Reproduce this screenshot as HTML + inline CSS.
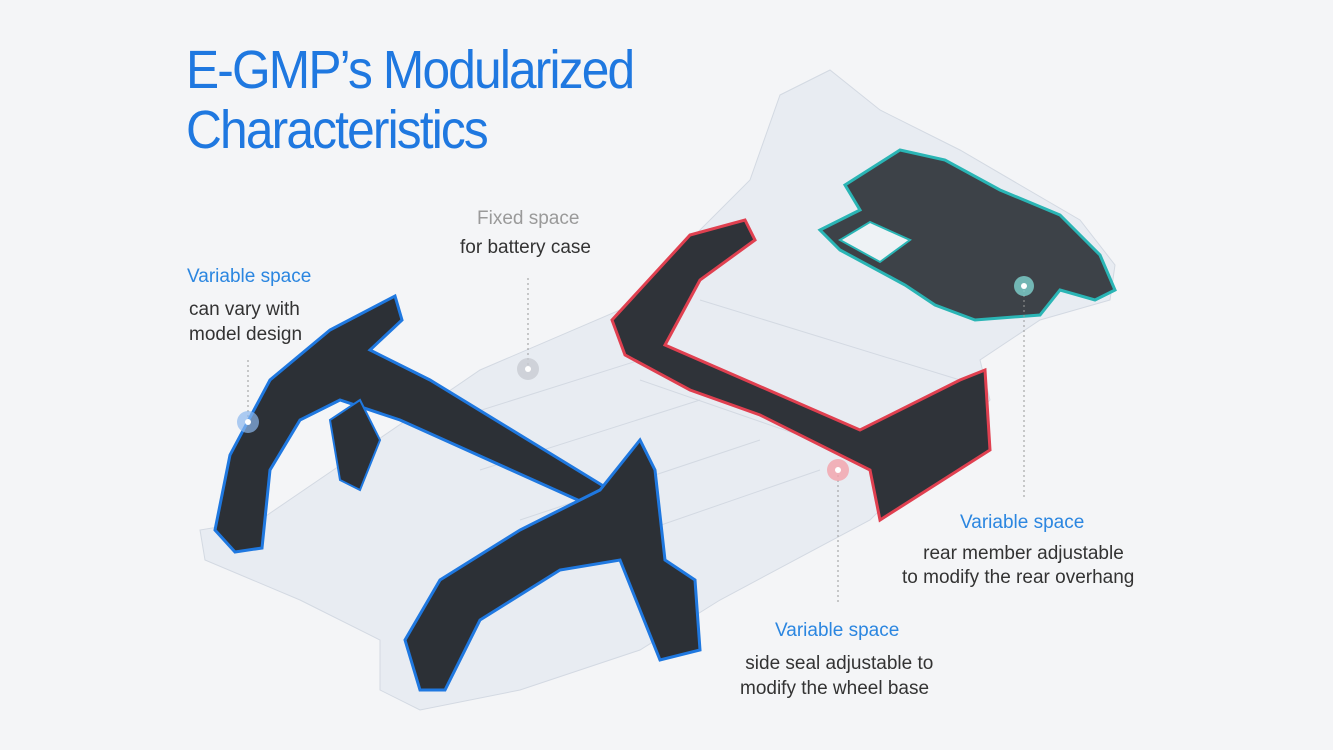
<!DOCTYPE html>
<html><head><meta charset="utf-8"><style>
html,body{margin:0;padding:0;}
body{width:1333px;height:750px;background:#f4f5f7;position:relative;overflow:hidden;font-family:"Liberation Sans","DejaVu Sans",sans-serif;}
.t{position:absolute;white-space:nowrap;}
.title{left:186px;top:40px;font-size:54px;line-height:60px;color:#1f78e0;letter-spacing:-2px;transform:scaleX(0.92);transform-origin:left top;}
.b{color:#2b86e0;font-size:19px;}
.g{color:#333;font-size:19px;}
.f{color:#9a9a9a;font-size:19px;}
svg{position:absolute;left:0;top:0;}
</style></head><body>
<svg width="1333" height="750">
 <g fill="#e8ecf2" stroke="#d3d9e2" stroke-width="1">
  <path d="M780 95 L830 70 L880 110 L960 150 L1080 220 L1115 265 L1110 300 L1040 320 L980 360 L990 400 L920 470 L870 520 L720 600 L640 650 L520 690 L420 710 L380 690 L380 640 L300 600 L205 560 L200 530 L260 520 L480 370 L620 310 L700 230 L750 180 Z"/>
 </g>
 <g fill="none" stroke="#d3d9e2" stroke-width="1">
  <path d="M450 420 L640 360 L860 440"/><path d="M480 470 L700 400"/><path d="M520 520 L760 440"/>
  <path d="M560 560 L820 470"/><path d="M640 380 L900 470"/><path d="M700 300 L960 380"/>
 </g>
 <path d="M820 230 L860 210 L845 185 L900 150 L945 160 L1000 190 L1060 215 L1100 255 L1115 290 L1095 300 L1060 290 L1040 315 L975 320 L935 305 L905 285 L840 250 Z" fill="#3d4248" stroke="#2ab5b5" stroke-width="3"/>
 <path d="M840 240 L870 222 L910 240 L880 262 Z" fill="#eef2f5" stroke="#2ab5b5" stroke-width="2"/>
 <path d="M612 320 L690 235 L745 220 L755 240 L700 280 L665 345 L860 430 L960 380 L985 370 L990 450 L880 520 L870 470 L760 415 L690 390 L625 355 Z" fill="#2f3339" stroke="#e04050" stroke-width="3"/>
 <path d="M215 530 L230 455 L270 380 L330 330 L395 296 L402 320 L370 350 L430 380 L610 490 L600 510 L500 465 L400 420 L340 400 L300 420 L270 470 L262 548 L235 552 Z" fill="#2c3036" stroke="#1f78e0" stroke-width="3"/>
 <path d="M330 420 L360 400 L380 440 L360 490 L340 480 Z" fill="#2c3036" stroke="#1f78e0" stroke-width="2"/>
 <path d="M405 640 L440 580 L520 530 L600 490 L640 440 L655 470 L665 560 L695 580 L700 650 L660 660 L640 610 L620 560 L560 570 L480 620 L445 690 L420 690 Z" fill="#2c3036" stroke="#1f78e0" stroke-width="3"/>
 <g stroke="#999" stroke-width="1" stroke-dasharray="2 3">
  <line x1="248" y1="360" x2="248" y2="420"/>
  <line x1="528" y1="278" x2="528" y2="368"/>
  <line x1="838" y1="470" x2="838" y2="605"/>
  <line x1="1024" y1="290" x2="1024" y2="500"/>
 </g>
 <circle cx="248" cy="422" r="11" fill="#8bb8ee" opacity="0.7"/><circle cx="248" cy="422" r="3" fill="#fff"/>
 <circle cx="528" cy="369" r="11" fill="#c8ccd2" opacity="0.8"/><circle cx="528" cy="369" r="3" fill="#fff"/>
 <circle cx="838" cy="470" r="11" fill="#f3a3aa" opacity="0.8"/><circle cx="838" cy="470" r="3" fill="#fff"/>
 <circle cx="1024" cy="286" r="10" fill="#7fd3cf" opacity="0.8"/><circle cx="1024" cy="286" r="3" fill="#fff"/>
</svg>
<div class="t title">E-GMP’s Modularized<br>Characteristics</div>
<div class="t f" style="left:477px;top:208px;">Fixed space</div>
<div class="t g" style="left:460px;top:237px;">for battery case</div>
<div class="t b" style="left:187px;top:266px;">Variable space</div>
<div class="t g" style="left:189px;top:297px;line-height:25px;">can vary with<br>model design</div>
<div class="t b" style="left:960px;top:512px;">Variable space</div>
<div class="t g" style="left:902px;top:542px;line-height:24px;">&nbsp;&nbsp;&nbsp;&nbsp;rear member adjustable<br>to modify the rear overhang</div>
<div class="t b" style="left:775px;top:620px;">Variable space</div>
<div class="t g" style="left:740px;top:651px;line-height:25px;">&nbsp;side seal adjustable to<br>modify the wheel base</div>
</body></html>
